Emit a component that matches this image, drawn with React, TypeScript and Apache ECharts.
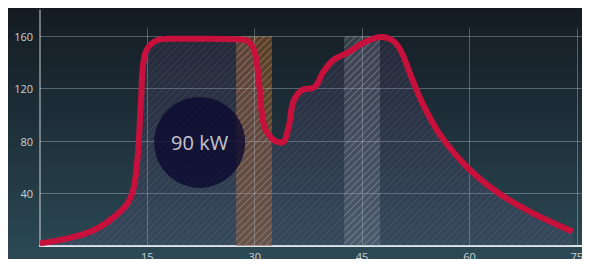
import React, { useEffect, useRef } from "react";
import * as echarts from "echarts";

const xTicks = [15, 30, 45, 60, 75];
const yTicks = [40, 80, 120, 160];
const powerCurve: [number, number][] = [
  [0, 2], [4, 6], [7.5, 12], [10.3, 22], [12.5, 35], [13.5, 60], [14.1, 110],
  [14.6, 145], [16, 156], [18, 158], [23, 158], [28.2, 157.5],
  [29.8, 151], [30.6, 124], [31.3, 92], [32.6, 81], [33.8, 79], [34.7, 90],
  [35.4, 110], [36.6, 119], [38.3, 121], [39.6, 133], [41, 142], [43, 147.5],
  [45.2, 155], [47.7, 159.5], [49.2, 157], [50.4, 149], [51.8, 130], [53.6, 107],
  [56, 84], [59.7, 60], [63.9, 41], [68.5, 26], [74.4, 11],
];
const bands: [number, number, string][] = [
  [27.4, 32.4, "orange"],
  [42.5, 47.5, "gray"],
];
const bandTop = 160;
const vGridTop = 166;
const badge = { x: 22.3, y: 79, text: "90 kW" };

function hatch(bg: string, line: string, size = 7, lw = 1) {
  const c = document.createElement("canvas");
  c.width = size;
  c.height = size;
  const ctx = c.getContext("2d")!;
  ctx.fillStyle = bg;
  ctx.fillRect(0, 0, size, size);
  ctx.strokeStyle = line;
  ctx.lineWidth = lw;
  ctx.beginPath();
  ctx.moveTo(0, size);
  ctx.lineTo(size, 0);
  ctx.moveTo(-size / 2, size / 2);
  ctx.lineTo(size / 2, -size / 2);
  ctx.moveTo(size / 2, size * 1.5);
  ctx.lineTo(size * 1.5, size / 2);
  ctx.stroke();
  return c;
}

export default function App() {
  const ref = useRef<HTMLDivElement>(null);
  useEffect(() => {
    if (!ref.current) return;
    const chart = echarts.init(ref.current, null, { renderer: "svg" });
    const areaPat = hatch("rgba(110,90,140,0.16)", "rgba(170,160,190,0.16)");
    const orangePat = hatch("rgba(150,95,45,0.5)", "rgba(200,140,85,0.5)", 7, 1.2);
    const grayPat = hatch("rgba(150,165,170,0.22)", "rgba(200,210,210,0.28)", 7, 1.2);
    const gridCol = "rgba(200,215,220,0.35)";
    chart.setOption({
      animation: false,
      backgroundColor: new echarts.graphic.LinearGradient(0, 0, 0, 1, [
        { offset: 0, color: "#131a21" },
        { offset: 0.5, color: "#1f313b" },
        { offset: 1, color: "#2c4b56" },
      ]),
      grid: { left: 40, right: 6, top: 10, bottom: 21 },
      xAxis: {
        type: "value",
        min: 0,
        max: 76,
        interval: 15,
        axisLine: { show: true, lineStyle: { color: "#dfe6ea", width: 2 } },
        axisTick: { show: false },
        splitLine: { show: false },
        axisLabel: {
          showMinLabel: false,
          showMaxLabel: false,
          color: "#c9d2d6",
          fontSize: 11,
          margin: 5,
          fontFamily: "Open Sans",
        },
      },
      yAxis: {
        type: "value",
        min: 0,
        max: 180,
        interval: 40,
        axisLine: { show: true, lineStyle: { color: "rgba(220,230,235,0.6)", width: 1.5 } },
        axisTick: { show: false },
        splitLine: { show: false },
        axisLabel: {
          showMinLabel: false,
          showMaxLabel: false,
          color: "#c9d2d6",
          fontSize: 11,
          margin: 7,
          fontFamily: "Open Sans",
        },
      },
      series: [
        {
          type: "line",
          data: powerCurve,
          smooth: 0.4,
          symbol: "none",
          lineStyle: { color: "#c8103c", width: 6 },
          areaStyle: { color: { image: areaPat, repeat: "repeat" } as any, opacity: 1 },
          z: 5,
          markArea: {
            silent: true,
            data: bands.map(([a, b, kind]) => [
              {
                xAxis: a,
                yAxis: 0,
                itemStyle: {
                  color: { image: kind === "orange" ? orangePat : grayPat, repeat: "repeat" },
                },
              },
              { xAxis: b, yAxis: bandTop },
            ]),
          },
          markLine: {
            silent: true,
            symbol: "none",
            label: { show: false },
            lineStyle: { color: gridCol, width: 1, type: "solid" },
            data: [
              ...xTicks.map((v) => [{ coord: [v, 0] }, { coord: [v, vGridTop] }]),
              ...yTicks.map((v) => ({ yAxis: v })),
            ],
          },
        },
        {
          type: "scatter",
          data: [[badge.x, badge.y]],
          symbol: "circle",
          symbolSize: 91,
          itemStyle: { color: "#0b0930" },
          z: 10,
          label: {
            show: true,
            position: "inside",
            formatter: badge.text,
            color: "#f2f3f7",
            fontSize: 20,
            fontFamily: "Open Sans",
          },
        },
      ],
    });
    return () => chart.dispose();
  }, []);
  return <div ref={ref} style={{ width: 590, height: 267, margin: -8 }} />;
}
